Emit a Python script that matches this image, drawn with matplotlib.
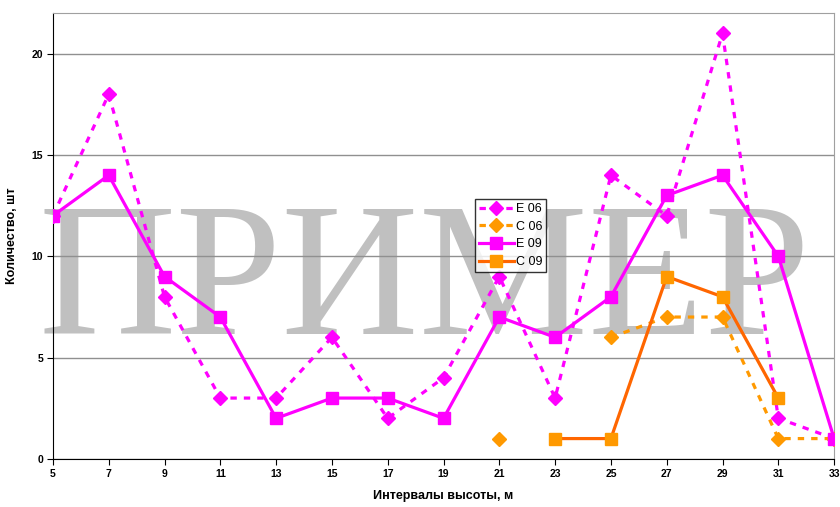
import numpy as np
import matplotlib
matplotlib.use('Agg')
import matplotlib.pyplot as plt

x = [5, 7, 9, 11, 13, 15, 17, 19, 21, 23, 25, 27, 29, 31, 33]
e06 = [12, 18, 8, 3, 3, 6, 2, 4, 9, 3, 14, 12, 21, 2, 1]
c06 = [np.nan] * 8 + [1, np.nan, 6, 7, 7, 1, 1]
e09 = [12, 14, 9, 7, 2, 3, 3, 2, 7, 6, 8, 13, 14, 10, 1]
c09 = [np.nan] * 9 + [1, 1, 9, 8, 3, np.nan]

plt.rcParams['font.family'] = ['Liberation Sans', 'DejaVu Sans']

fig = plt.figure(figsize=(8.4, 5.07), dpi=100)
ax = fig.add_axes([0.063, 0.095, 0.93, 0.879])

ax.set_xlim(5, 33)
ax.set_ylim(0, 22)
ax.set_xticks(x)
ax.set_yticks([0, 5, 10, 15, 20])
ax.set_axisbelow('line')
ax.yaxis.grid(True, color='#909090', linewidth=1)

for s in ['top', 'right']:
    ax.spines[s].set_color('#a0a0a0')
for s in ['left', 'bottom']:
    ax.spines[s].set_color('black')

ax.tick_params(axis='both', direction='out', length=4, labelsize=7.5, pad=3)
for lbl in ax.get_xticklabels() + ax.get_yticklabels():
    lbl.set_fontweight('bold')

# watermark
ax.text(0.046, 0.341, 'ПРИМЕР', transform=fig.transFigure, fontsize=137,
        family='Liberation Serif', color='#c0c0c0', ha='left', va='baseline',
        zorder=1, clip_on=False)

ax.plot(x, e06, color='#ff00ff', linestyle=(0, (2, 2.2)), linewidth=2.3,
        marker='D', markersize=7, label='E 06', zorder=3)
ax.plot(x, c06, color='#ff9900', linestyle=(0, (2, 2.2)), linewidth=2.3,
        marker='D', markersize=7, label='C 06', zorder=3)
ax.plot(x, e09, color='#ff00ff', linewidth=2.3, marker='s', markersize=9,
        label='E 09', zorder=4)
ax.plot(x, c09, color='#ff6600', linewidth=2.3, marker='s', markersize=9,
        markerfacecolor='#ff9900', markeredgecolor='#ff9900', label='C 09', zorder=4)

leg = ax.legend(loc='upper left', bbox_to_anchor=(0.532, 0.596), fontsize=9,
                frameon=True, fancybox=False, edgecolor='black', borderpad=0.3,
                handlelength=2.8, handletextpad=0.2, labelspacing=0.45)
leg.get_frame().set_linewidth(1)
leg.set_zorder(6)

ax.set_xlabel('Интервалы высоты, м', fontsize=9, fontweight='bold', labelpad=8)
ax.set_ylabel('Количество, шт', fontsize=9, fontweight='bold', labelpad=10)

fig.savefig('out.png', dpi=100)
